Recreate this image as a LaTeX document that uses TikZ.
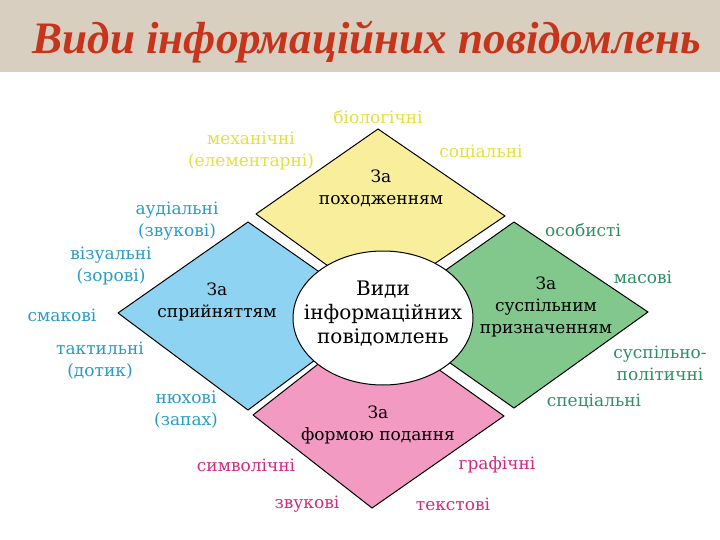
\documentclass[tikz,border=0pt]{standalone}
\usepackage{fontspec}
\setmainfont{DejaVu Serif}
\newfontfamily\titlefont{Liberation Serif}
\definecolor{bandcol}{HTML}{D9CFC0}
\definecolor{titlered}{HTML}{C6341C}
\definecolor{yelfill}{HTML}{F9EE9C}
\definecolor{yeltext}{HTML}{E6DE3E}
\definecolor{bluefill}{HTML}{8ED4F2}
\definecolor{bluetext}{HTML}{2A9BC6}
\definecolor{grnfill}{HTML}{82C78C}
\definecolor{grntext}{HTML}{2F8E66}
\definecolor{pinkfill}{HTML}{F29AC2}
\definecolor{pinktext}{HTML}{D22A7E}

\begin{document}
\begin{tikzpicture}[x=1pt,y=-1pt,
  every node/.style={font=\fontsize{17}{22}\selectfont, align=center, inner sep=0pt},
  part/.style={draw=black, line width=1pt, line join=round},
  ylab/.style={text=yeltext},
  blab/.style={text=bluetext},
  glab/.style={text=grntext},
  plab/.style={text=pinktext}]
\useasboundingbox (0,0) rectangle (720,540);
\fill[bandcol] (0,0) rectangle (720,72);
\node[font=\titlefont\fontsize{45}{50}\selectfont\bfseries\itshape, text=titlered] (title) at (367,42) {Види інформаційних повідомлень};

% four parts
\draw[part, fill=yelfill] (378,129) -- (505,216) -- (378,302) -- (256,214) -- cycle;
\draw[part, fill=bluefill] (248,222) -- (378,313) -- (248,410) -- (118,313) -- cycle;
\draw[part, fill=grnfill] (514,222) -- (648,312) -- (514,408) -- (382,315) -- cycle;
\draw[part, fill=pinkfill] (372,322) -- (504,416) -- (372,508) -- (253,415) -- cycle;
\draw[part, fill=white] (383,318) ellipse [x radius=90, y radius=67];

\node[font=\fontsize{20}{24}\selectfont] (centre) at (383,314) {Види\\інформаційних\\повідомлень};
\node (orig) at (381,188) {За\\походженням};
\node (perc) at (217,302) {За\\сприйняттям};
\node (purp) at (546,307) {За\\суспільним\\призначенням};
\node (form) at (378,425) {За\\формою подання};

% yellow
\node[ylab] (bio) at (378,117) {біологічні};
\node[ylab] (mech) at (251,151) {механічні\\(елементарні)};
\node[ylab] (soc) at (481,152) {соціальні};
% blue
\node[blab] (aud) at (177,221) {аудіальні\\(звукові)};
\node[blab] (vis) at (111,266) {візуальні\\(зорові)};
\node[blab] (taste) at (62,315) {смакові};
\node[blab] (tact) at (100,361) {тактильні\\(дотик)};
\node[blab] (smell) at (186,410) {нюхові\\(запах)};
% green
\node[glab] (pers) at (583,230) {особисті};
\node[glab] (mass) at (643,277) {масові};
\node[glab] (pol) at (660,363) {суспільно-\\політичні};
\node[glab] (spec) at (594,401) {спеціальні};
% pink
\node[plab] (symb) at (246,465) {символічні};
\node[plab] (graph) at (497,465) {графічні};
\node[plab] (snd) at (307,504) {звукові};
\node[plab] (txt) at (453,504) {текстові};
\end{tikzpicture}
\end{document}
